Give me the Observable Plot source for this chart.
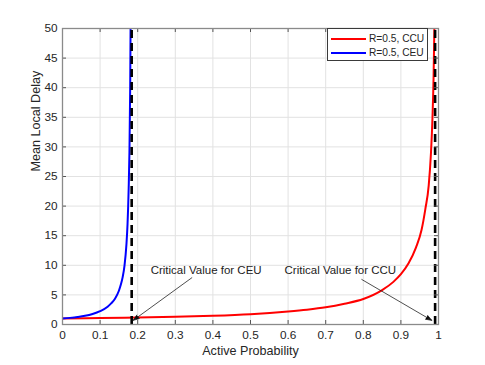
<!DOCTYPE html>
<html><head><meta charset="utf-8">
<script src="https://cdn.jsdelivr.net/npm/d3@7"></script>
<script src="https://cdn.jsdelivr.net/npm/@observablehq/plot@0.6"></script>
<style>
body{margin:0;background:#fff;}
#wrap{position:relative;width:485px;height:365px;font-family:"Liberation Sans",Arial,sans-serif;}
#legend{position:absolute;left:327px;top:28px;width:101px;height:33px;border:1px solid #3a3a3a;background:#fff;font-size:10.2px;color:#262626;box-sizing:border-box;}
.row{position:absolute;left:3px;height:13px;display:flex;align-items:center;white-space:nowrap;}
.sw{width:35px;height:0;border-top:2px solid;margin-right:3px;}
</style></head><body><div id="wrap"></div>
<script>
// data
const ccuX = [0, 0.1, 0.2, 0.3, 0.4, 0.5, 0.6, 0.65, 0.7, 0.75, 0.8, 0.85, 0.88, 0.9, 0.92, 0.94, 0.955, 0.965, 0.974, 0.98, 0.984, 0.987, 0.989];
const ccuY = [1.0, 1.08, 1.18, 1.3, 1.48, 1.75, 2.2, 2.5, 2.9, 3.5, 4.3, 5.8, 7.2, 8.5, 10.3, 13, 16, 19.5, 23.5, 29, 35, 42, 50];
const ceuX = [0, 0.02, 0.04, 0.06, 0.08, 0.1, 0.12, 0.13, 0.14, 0.15, 0.155, 0.16, 0.165, 0.17, 0.173, 0.176, 0.178, 0.18, 0.181];
const ceuY = [1.0, 1.12, 1.27, 1.47, 1.78, 2.25, 3.0, 3.6, 4.4, 5.7, 6.7, 8.0, 10, 13.5, 17, 23, 29, 40, 50];
const criticalValues = [0.184, 0.991];
const seriesNames = ["R=0.5, CCU", "R=0.5, CEU"];
const seriesColors = ["#ff0000", "#0000ff"];
const xTicks = [0, 0.1, 0.2, 0.3, 0.4, 0.5, 0.6, 0.7, 0.8, 0.9, 1];
const yTicks = [0, 5, 10, 15, 20, 25, 30, 35, 40, 45, 50];
const annLabels = ["Critical Value for CEU", "Critical Value for CCU"];
const annTextX = [0.382, 0.739];
const annTextY = [9.1, 9.1];
const arrowFromX = [0.344, 0.796];
const arrowFromY = [7.9, 7.6];
const arrowToX = [0.188, 0.982];
const arrowToY = [0.7, 0.7];
const xLabel = "Active Probability";
const yLabel = "Mean Local Delay";

const ccu = ccuX.map((x, i) => ({x, y: ccuY[i]}));
const ceu = ceuX.map((x, i) => ({x, y: ceuY[i]}));
const ann = annLabels.map((t, i) => ({t, tx: annTextX[i], ty: annTextY[i], x1: arrowFromX[i], y1: arrowFromY[i], x2: arrowToX[i], y2: arrowToY[i]}));

const tickColor = "#555";
const chart = Plot.plot({
  width: 485, height: 365,
  marginLeft: 62, marginRight: 47, marginTop: 28, marginBottom: 41,
  style: {fontFamily: "'Liberation Sans', Arial, sans-serif", fontSize: "11.8px", color: "#262626", background: "#fff"},
  x: {domain: [0, 1]},
  y: {domain: [0, 50]},
  marks: [
    Plot.gridX(xTicks, {stroke: "#e2e2e2", strokeOpacity: 1}),
    Plot.gridY(yTicks, {stroke: "#e2e2e2", strokeOpacity: 1}),
    Plot.line(ccu, {x: "x", y: "y", stroke: seriesColors[0], strokeWidth: 2, curve: "monotone-x", clip: true}),
    Plot.line(ceu, {x: "x", y: "y", stroke: seriesColors[1], strokeWidth: 2, curve: "monotone-x", clip: true}),
    Plot.ruleX(criticalValues, {y1: 0, y2: 50, stroke: "black", strokeWidth: 2.6, strokeDasharray: "8,5"}),
    Plot.arrow(ann, {x1: "x1", y1: "y1", x2: "x2", y2: "y2", stroke: "#222", fill: "black", strokeWidth: 0.8, headLength: 12, headAngle: 40, bend: 0}),
    Plot.text(ann, {x: "tx", y: "ty", text: "t", fontSize: 11.5, fill: "#222"}),
    Plot.tickX(xTicks, {x: d => d, insetTop: 292, stroke: tickColor}),
    Plot.tickX(xTicks, {x: d => d, insetBottom: 292, stroke: tickColor}),
    Plot.tickY(yTicks, {y: d => d, insetRight: 372, stroke: tickColor}),
    Plot.tickY(yTicks, {y: d => d, insetLeft: 372, stroke: tickColor}),
    Plot.frame({stroke: "#8a8a8a", strokeWidth: 1.3}),
    Plot.axisX(xTicks, {tickSize: 0, tickPadding: 6, tickFormat: d => String(d), label: null, fill: "#262626"}),
    Plot.axisY(yTicks, {tickSize: 0, tickPadding: 5, tickFormat: d => String(d), label: null, fill: "#262626"}),
    Plot.text([xLabel], {frameAnchor: "bottom", dy: 30, fontSize: 12.6, fill: "#262626"}),
    Plot.text([yLabel], {frameAnchor: "left", dx: -27, dy: -5, rotate: -90, fontSize: 12.6, fill: "#262626"})
  ]
});
const wrap = document.getElementById("wrap");
wrap.appendChild(chart);
const lg = document.createElement("div");
lg.id = "legend";
seriesNames.forEach((n, i) => {
  const r = document.createElement("div");
  r.className = "row";
  r.style.top = (i === 0 ? 3 : 17) + "px";
  const s = document.createElement("span");
  s.className = "sw";
  s.style.borderTopColor = seriesColors[i];
  r.appendChild(s);
  r.appendChild(document.createTextNode(n));
  lg.appendChild(r);
});
wrap.appendChild(lg);
</script></body></html>
